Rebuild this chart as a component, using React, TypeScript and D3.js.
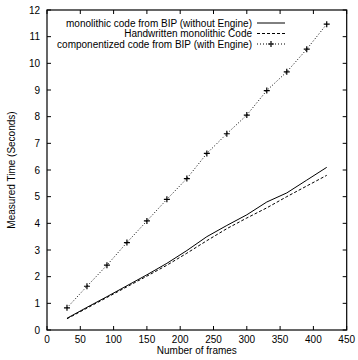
import { useEffect, useRef } from "react"
import * as d3 from "d3"

const frames = [30, 60, 90, 120, 150, 180, 210, 240, 270, 300, 330, 360, 390, 420]
const withoutEngine = [0.44, 0.85, 1.25, 1.66, 2.07, 2.5, 2.98, 3.5, 3.92, 4.32, 4.8, 5.14, 5.62, 6.1]
const handwritten = [0.42, 0.82, 1.22, 1.62, 2.02, 2.43, 2.88, 3.35, 3.8, 4.2, 4.58, 5.0, 5.4, 5.8]
const withEngine = [0.83, 1.64, 2.43, 3.28, 4.09, 4.9, 5.68, 6.62, 7.36, 8.06, 8.98, 9.68, 10.53, 11.47]

const xTicks = [0, 50, 100, 150, 200, 250, 300, 350, 400, 450]
const yTicks = [0, 1, 2, 3, 4, 5, 6, 7, 8, 9, 10, 11, 12]

const series = [
  { name: "monolithic code from BIP (without Engine)", values: withoutEngine, dash: null, marker: false },
  { name: "Handwritten monolithic Code", values: handwritten, dash: "3,2", marker: false },
  { name: "componentized code from BIP (with Engine)", values: withEngine, dash: "1,2", marker: true },
]

export default function App() {
  const svgRef = useRef<SVGSVGElement>(null)

  useEffect(() => {
    if (!svgRef.current) return
    const width = 358
    const height = 360
    const margin = { top: 10, right: 11.3, bottom: 30, left: 47 }
    const font = "'Liberation Sans', Arial, Helvetica, sans-serif"

    d3.select(svgRef.current).selectAll("*").remove()
    const svg = d3.select(svgRef.current).attr("width", width).attr("height", height)

    const x = d3.scaleLinear().domain([0, 450]).range([margin.left, width - margin.right])
    const y = d3.scaleLinear().domain([0, 12]).range([height - margin.bottom, margin.top])

    const g = svg.append("g")
    const tick = 4

    // ticks on all sides (pointing inward)
    xTicks.forEach((t) => {
      g.append("line").attr("x1", x(t)).attr("x2", x(t)).attr("y1", y(0)).attr("y2", y(0) - tick).attr("stroke", "#000")
      g.append("line").attr("x1", x(t)).attr("x2", x(t)).attr("y1", y(12)).attr("y2", y(12) + tick).attr("stroke", "#000")
      g.append("text")
        .attr("x", x(t))
        .attr("y", y(0) + 13)
        .attr("text-anchor", "middle")
        .style("font-family", font)
        .style("font-size", "10px")
        .text(t)
    })
    yTicks.forEach((t) => {
      g.append("line").attr("x1", x(0)).attr("x2", x(0) + tick).attr("y1", y(t)).attr("y2", y(t)).attr("stroke", "#000")
      g.append("line").attr("x1", x(450)).attr("x2", x(450) - tick).attr("y1", y(t)).attr("y2", y(t)).attr("stroke", "#000")
      g.append("text")
        .attr("x", x(0) - 7)
        .attr("y", y(t))
        .attr("dy", "0.35em")
        .attr("text-anchor", "end")
        .style("font-family", font)
        .style("font-size", "10px")
        .text(t)
    })

    g.append("rect")
      .attr("x", x(0))
      .attr("y", y(12))
      .attr("width", x(450) - x(0))
      .attr("height", y(0) - y(12))
      .attr("fill", "none")
      .attr("stroke", "#000")
      .attr("stroke-width", 1.2)

    // axis labels
    svg.append("text")
      .attr("x", (x(0) + x(450)) / 2)
      .attr("y", 354)
      .attr("text-anchor", "middle")
      .style("font-family", font)
      .style("font-size", "10px")
      .text("Number of frames")
    svg.append("text")
      .attr("transform", `translate(15,${(y(0) + y(12)) / 2}) rotate(-90)`)
      .attr("text-anchor", "middle")
      .style("font-family", font)
      .style("font-size", "10px")
      .text("Measured Time (Seconds)")

    const line = d3.line<number>().x((_, i) => x(frames[i])).y((d) => y(d))

    series.forEach((s, k) => {
      svg.append("path")
        .attr("d", line(s.values))
        .attr("fill", "none")
        .attr("stroke", "#000")
        .attr("stroke-width", 1)
        .attr("stroke-dasharray", s.dash)
      if (s.marker) {
        s.values.forEach((v, i) => {
          const cx = x(frames[i])
          const cy = y(v)
          svg.append("path")
            .attr("d", `M${cx - 3},${cy}H${cx + 3}M${cx},${cy - 3}V${cy + 3}`)
            .attr("stroke", "#000")
            .attr("stroke-width", 1.2)
        })
      }
      // legend
      const ly = 23 + k * 10.5
      svg.append("text")
        .attr("x", 252)
        .attr("y", ly)
        .attr("dy", "0.35em")
        .attr("text-anchor", "end")
        .style("font-family", font)
        .style("font-size", "10px")
        .text(s.name)
      svg.append("line")
        .attr("x1", 257)
        .attr("x2", 285)
        .attr("y1", ly)
        .attr("y2", ly)
        .attr("stroke", "#000")
        .attr("stroke-dasharray", s.dash)
      if (s.marker) {
        svg.append("path")
          .attr("d", `M268,${ly}H274M271,${ly - 3}V${ly + 3}`)
          .attr("stroke", "#000")
          .attr("stroke-width", 1.2)
      }
    })
  }, [])

  return <svg ref={svgRef} style={{ position: "absolute", left: 0, top: 0 }} />
}
